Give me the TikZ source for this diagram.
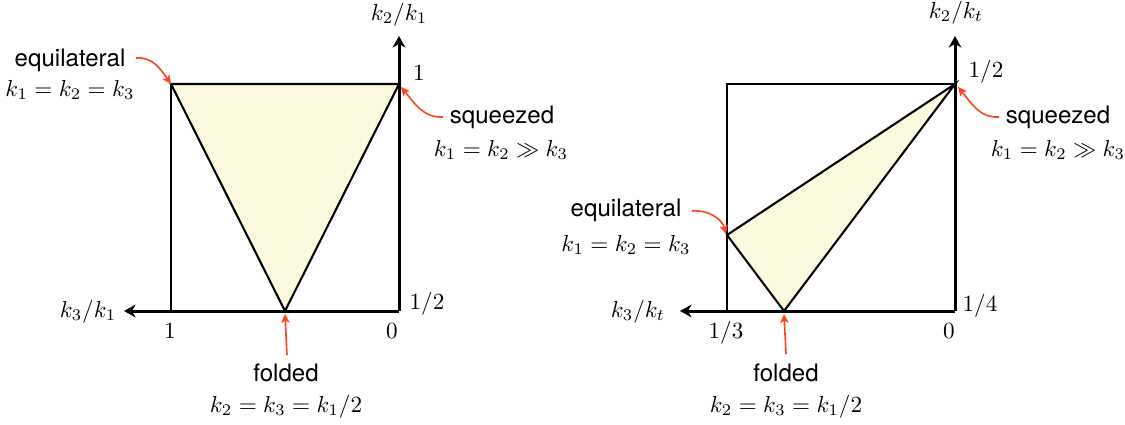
\documentclass[tikz,border=0pt]{standalone}
\usepackage{fontspec}
\setsansfont{TeX Gyre Heros}
\usetikzlibrary{arrows.meta}
\definecolor{fillY}{HTML}{FBFADF}
\definecolor{arrR}{HTML}{FF4422}
\tikzset{
  axisline/.style={line width=1.3pt,-{Stealth[length=5pt,width=5.5pt,inset=1.6pt]}},
  boxline/.style={line width=0.8pt},
  tri/.style={fill=fillY,draw=black,line width=0.9pt,line join=miter},
  callout/.style={draw=arrR,line width=0.7pt,-{Stealth[length=3.8pt,width=3.6pt,inset=0.9pt]}},
  word/.style={font=\sffamily\fontsize{10.4}{12}\selectfont,inner sep=0pt,anchor=base},
  mlabel/.style={inner sep=0pt,anchor=base},
}
\begin{document}
\begin{tikzpicture}[x=0.432pt,y=0.432pt]
\useasboundingbox (0,0) rectangle (1125,-424);
% ---------------- left diagram ----------------
\coordinate (LO) at (399,-311);
\coordinate (LA) at (171,-84);
\coordinate (LB) at (399,-84);
\coordinate (LC) at (285,-311);
\coordinate (LD) at (171,-311);
\coordinate (LYt) at (399,-36);
\coordinate (LXt) at (124,-311);
\draw[tri] (LA) -- (LB) -- (LC) -- cycle;
\draw[boxline] (LD) -- (LA) -- (LB);
\draw[axisline] (LO) -- (LYt);
\draw[axisline] (LO) -- (LXt);
\node[mlabel] (Lylab) at (399,-20) {$k_2/k_1$};
\node[mlabel] (Lxlab) at (88,-317) {$k_3/k_1$};
\node[mlabel] (Ly1) at (419,-80) {$1$};
\node[mlabel] (Ly2) at (427,-309) {$1/2$};
\node[mlabel] (Lx1) at (170,-338) {$1$};
\node[mlabel] (Lx0) at (392,-338) {$0$};
\node[word] (Leq) at (70,-66) {equilateral};
\node[mlabel] (Leqm) at (70,-96) {$k_1=k_2=k_3$};
\node[word] (Lsq) at (502,-123) {squeezed};
\node[mlabel] (Lsqm) at (501,-156) {$k_1=k_2\gg k_3$};
\node[word] (Lfo) at (286,-381) {folded};
\node[mlabel] (Lfom) at (286,-412) {$k_2=k_3=k_1/2$};
\coordinate (LeqS) at (136,-58);
\coordinate (LeqE) at (171,-84);
\coordinate (LsqS) at (443,-117);
\coordinate (LsqE) at (401,-87);
\coordinate (LfoS) at (287,-355);
\coordinate (LfoE) at (285,-314);
\draw[callout] (LeqS) to[out=5,in=125] (LeqE);
\draw[callout] (LsqS) to[out=183,in=-50] (LsqE);
\draw[callout] (LfoS) -- (LfoE);
% ---------------- right diagram ----------------
\coordinate (RO) at (955,-311);
\coordinate (RTL) at (727,-84);
\coordinate (RB) at (955,-84);
\coordinate (RE) at (727,-235);
\coordinate (RC) at (784,-311);
\coordinate (RD) at (727,-311);
\coordinate (RYt) at (955,-36);
\coordinate (RXt) at (680,-311);
\draw[tri] (RB) -- (RE) -- (RC) -- cycle;
\draw[boxline] (RD) -- (RTL) -- (RB);
\draw[axisline] (RO) -- (RYt);
\draw[axisline] (RO) -- (RXt);
\node[mlabel] (Rylab) at (956,-18) {$k_2/k_t$};
\node[mlabel] (Rxlab) at (638,-317) {$k_3/k_t$};
\node[mlabel] (Ry1) at (986,-77) {$1/2$};
\node[mlabel] (Ry2) at (980,-311) {$1/4$};
\node[mlabel] (Rx1) at (726,-338) {$1/3$};
\node[mlabel] (Rx0) at (949,-338) {$0$};
\node[word] (Req) at (626,-216) {equilateral};
\node[mlabel] (Reqm) at (626,-251) {$k_1=k_2=k_3$};
\node[word] (Rsq) at (1058,-123) {squeezed};
\node[mlabel] (Rsqm) at (1058,-156) {$k_1=k_2\gg k_3$};
\node[word] (Rfo) at (786,-381) {folded};
\node[mlabel] (Rfom) at (786,-412) {$k_2=k_3=k_1/2$};
\coordinate (ReqS) at (692,-211);
\coordinate (ReqE) at (726,-234);
\coordinate (RsqS) at (999,-117);
\coordinate (RsqE) at (958,-87);
\coordinate (RfoS) at (786,-354);
\coordinate (RfoE) at (784,-314);
\draw[callout] (ReqS) to[out=5,in=105] (ReqE);
\draw[callout] (RsqS) to[out=183,in=-50] (RsqE);
\draw[callout] (RfoS) -- (RfoE);
\end{tikzpicture}
\end{document}
